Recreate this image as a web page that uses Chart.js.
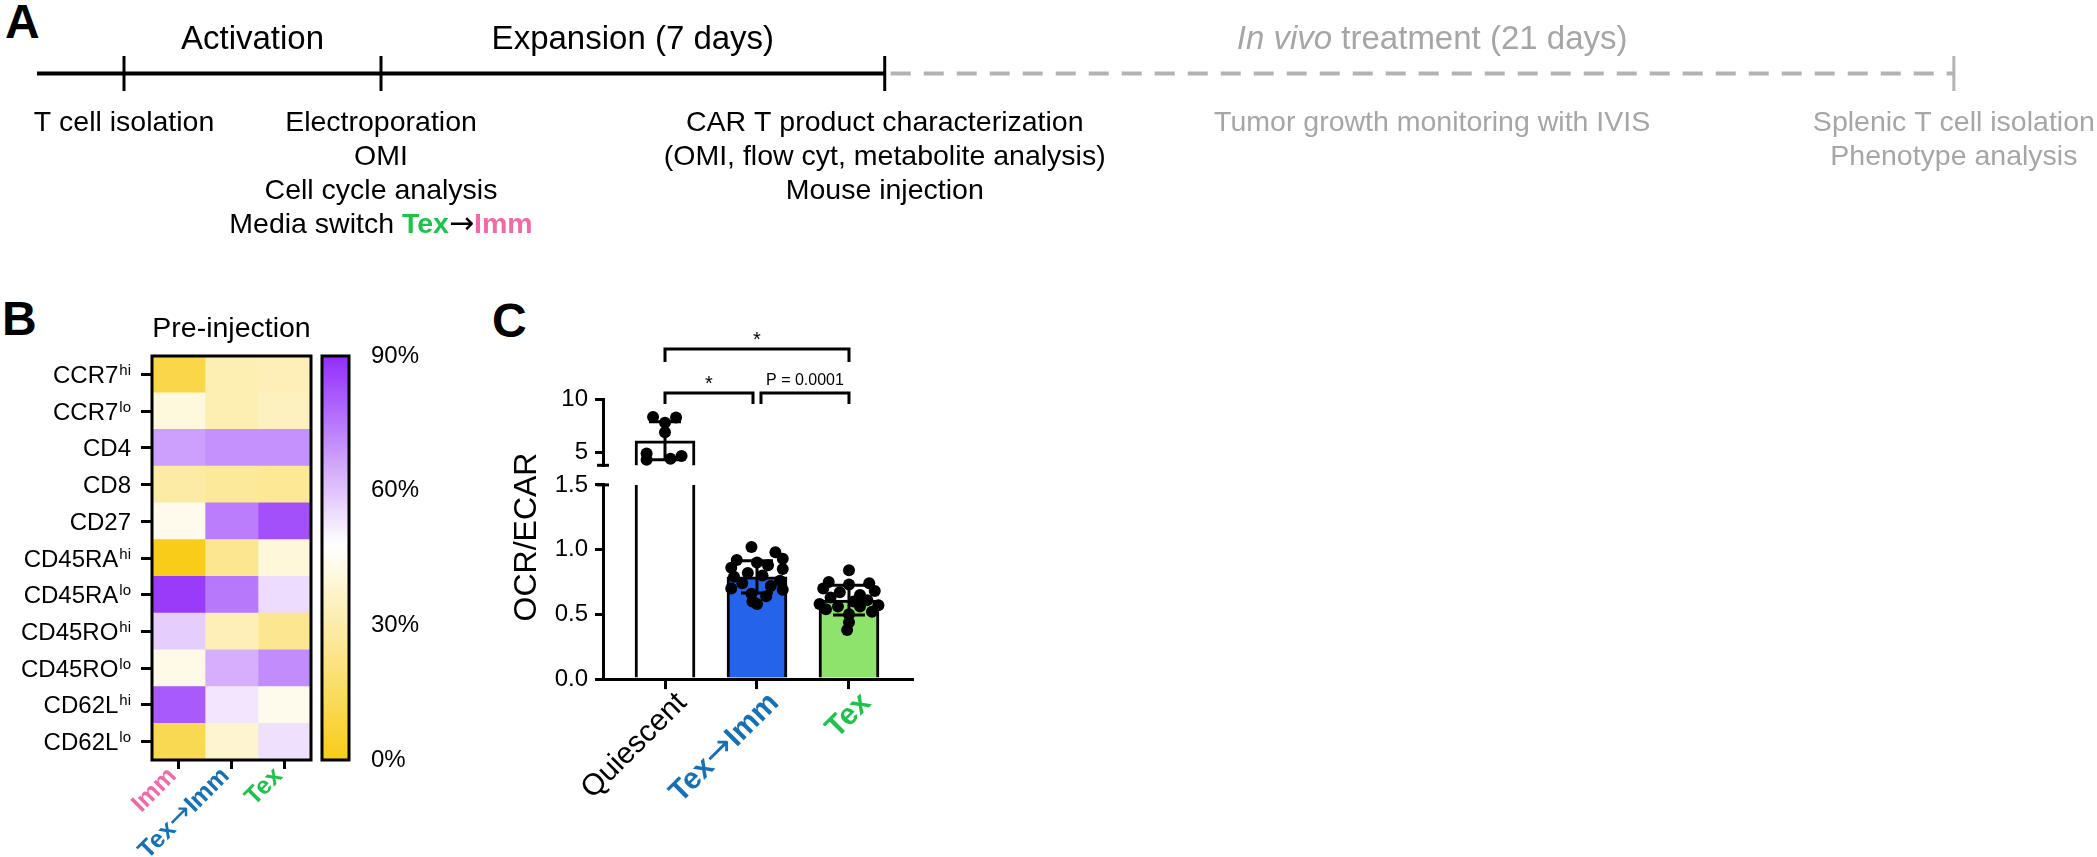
<!DOCTYPE html>
<html><head><meta charset="utf-8">
<script src="https://cdn.jsdelivr.net/npm/chart.js@4.4.1/dist/chart.umd.min.js"></script>
<style>
html,body{margin:0;padding:0;background:#fff;width:2097px;height:857px;overflow:hidden;position:relative;}
canvas{position:absolute;}
.plbl{position:absolute;font:bold 48px "Liberation Sans",Arial,sans-serif;line-height:1;color:#000;}
</style></head><body>
<div class="plbl" style="left:5px;top:-2px">A</div>
<div class="plbl" style="left:2px;top:295px">B</div>
<div class="plbl" style="left:492px;top:297px">C</div>
<canvas id="timeline" width="2097" height="260" style="left:0;top:0"></canvas>
<canvas id="heat" width="318" height="567" style="left:0;top:290px"></canvas>
<canvas id="cbar" width="125" height="567" style="left:315px;top:290px"></canvas>
<canvas id="upper" width="450" height="567" style="left:480px;top:290px"></canvas>
<canvas id="lower" width="450" height="567" style="left:480px;top:290px"></canvas>
<script>
const FONT = '"Liberation Sans", Arial, Helvetica, sans-serif';
const ARROW_FONT = '"DejaVu Sans", sans-serif';

// ---------- Panel A: timeline ----------
const milestonePos = [0, 1, 2.96, 7.12];          // schematic stage positions
const lineStartPos = -0.3385;
const phaseLabels = ['Activation', 'Expansion (7 days)', 'In vivo treatment (21 days)'];
const phaseAnchor = [0.5, 1.98, 5.09];
const eventLines = [
  ['T cell isolation'],
  ['Electroporation', 'OMI', 'Cell cycle analysis', 'Media switch Tex→Imm'],
  ['CAR T product characterization', '(OMI, flow cyt, metabolite analysis)', 'Mouse injection'],
  ['Splenic T cell isolation', 'Phenotype analysis']
];
const monitorLabel = 'Tumor growth monitoring with IVIS';

// ---------- Panel B: heatmap ----------
const markers   = ['CCR7','CCR7','CD4','CD8','CD27','CD45RA','CD45RA','CD45RO','CD45RO','CD62L','CD62L'];
const markerSup = ['hi','lo','','','','hi','lo','hi','lo','hi','lo'];
const immPct    = [10, 41, 67, 29, 44, 0, 87, 58, 43, 81, 12];
const texImmPct = [32, 32, 70, 27, 74, 25, 75, 33, 64, 53, 38];
const texPct    = [33, 35, 70, 26, 83, 40, 55, 25, 71, 44, 54];
const heatColumns = ['Imm', 'Tex→Imm', 'Tex'];
const colorbarTicks = [0, 30, 60, 90];

// ---------- Panel C: OCR/ECAR ----------
const groups = ['Quiescent', 'Tex→Imm', 'Tex'];
const meanRatio = [6.1, 0.79, 0.61];
const sdRatio = [1.8, 0.125, 0.115];
const quiescentDots   = [8.35, 8.3, 7.8, 6.9, 4.9, 4.3, 4.4, 4.65];
const quiescentJitter = [-0.13, 0.12, 0.0, 0.0, -0.2, -0.2, 0.06, 0.18];
const texImmDots   = [1.02, 0.98, 0.93, 0.92, 0.90, 0.88, 0.86, 0.85, 0.82, 0.80, 0.79, 0.76, 0.74, 0.72, 0.70, 0.69, 0.66, 0.64, 0.60, 0.58];
const texImmJitter = [-0.06, 0.2, 0.28, -0.22, 0.0, 0.12, -0.28, 0.28, -0.1, 0.06, -0.25, 0.25, -0.16, 0.15, -0.28, 0.28, -0.06, 0.1, -0.05, 0.0];
const texDots   = [0.84, 0.75, 0.74, 0.73, 0.70, 0.68, 0.67, 0.65, 0.63, 0.61, 0.60, 0.58, 0.57, 0.56, 0.56, 0.54, 0.52, 0.50, 0.44, 0.38];
const texJitter = [0.0, -0.22, 0.22, 0.0, -0.28, 0.28, -0.1, 0.12, -0.2, 0.2, 0.05, -0.32, 0.32, -0.12, 0.12, -0.25, 0.25, 0.0, 0.0, -0.02];
const upperTicks = [5, 10];
const lowerTicks = [0, 0.5, 1.0, 1.5];
const brackets = [
  {from: 0, to: 2, label: '*', row: 0},
  {from: 0, to: 1, label: '*', row: 1},
  {from: 1, to: 2, label: 'P = 0.0001', row: 1}
];

// colours
const PINK = '#f06aa6', BLUE = '#1570b8', GREEN = '#1ec24c', GREY = '#a6a6a6';
const groupColors = ['#000000', BLUE, GREEN];
const barFill = ['#ffffff', '#2563eb', '#8de36b'];
const heatLabelColors = [PINK, BLUE, GREEN];
const colorStops = [[0, [248, 204, 24]], [48, [255, 255, 255]], [90, [145, 45, 250]]];

function pctColor(v) {
  for (let i = 0; i < colorStops.length - 1; i++) {
    const [a, ca] = colorStops[i], [b, cb] = colorStops[i + 1];
    if (v <= b || i === colorStops.length - 2) {
      const t = Math.max(0, Math.min(1, (v - a) / (b - a)));
      const c = ca.map((x, k) => Math.round(x + (cb[k] - x) * t));
      return `rgb(${c[0]},${c[1]},${c[2]})`;
    }
  }
}
const rgbStr = c => `rgb(${c[0]},${c[1]},${c[2]})`;

const baseOpts = {responsive: false, animation: false, events: [], devicePixelRatio: 1,
  plugins: {legend: {display: false}, tooltip: {enabled: false}}};

function measureSegs(ctx, segs) {
  let total = 0;
  segs.forEach(s => { ctx.font = s.font; s.w = ctx.measureText(s.t).width; total += s.w; });
  return total;
}
function drawSegsAt(ctx, segs, x, baseline) {
  ctx.textAlign = 'left';
  segs.forEach(s => { ctx.font = s.font; ctx.fillStyle = s.color; ctx.fillText(s.t, x, baseline + (s.dy || 0)); x += s.w; });
}
function drawSegments(ctx, segs, cx, baseline) {
  const total = measureSegs(ctx, segs);
  drawSegsAt(ctx, segs, cx - total / 2, baseline);
}
function labelSegs(text, size, bold, color) {
  const f = `${bold ? 'bold ' : ''}${size}px ${FONT}`;
  if (text.indexOf('→') < 0) return [{t: text, font: f, color}];
  const [a, b] = text.split('→');
  return [{t: a, font: f, color}, {t: '→', font: `${Math.round(size * 1.15)}px ${ARROW_FONT}`, color},
          {t: b, font: f, color}];
}
function drawRotatedLabels(ctx, xScale, values, labels, colors, sizes, bolds, axisY, dx, dy) {
  values.forEach((v, i) => {
    const segs = labelSegs(labels[i], sizes[i], bolds[i], colors[i]);
    const total = measureSegs(ctx, segs);
    ctx.save();
    ctx.translate(xScale.getPixelForValue(v) + dx, axisY + dy);
    ctx.rotate(-Math.PI / 4);
    ctx.textBaseline = 'alphabetic';
    drawSegsAt(ctx, segs, -total, 0);
    ctx.restore();
  });
}

// ---------- Panel A chart ----------
const timelineText = {id: 'timelineText', afterDraw(chart) {
  const {ctx, scales: {x, y}} = chart;
  const yl = y.getPixelForValue(0);
  const big = `33px ${FONT}`, small = `28.5px ${FONT}`;
  ctx.save(); ctx.textBaseline = 'alphabetic';
  drawSegments(ctx, [{t: phaseLabels[0], font: big, color: '#000'}], x.getPixelForValue(phaseAnchor[0]), yl - 25);
  drawSegments(ctx, [{t: phaseLabels[1], font: big, color: '#000'}], x.getPixelForValue(phaseAnchor[1]), yl - 25);
  drawSegments(ctx, [{t: 'In vivo', font: `italic 33px ${FONT}`, color: GREY},
                     {t: ' treatment (21 days)', font: big, color: GREY}], x.getPixelForValue(phaseAnchor[2]), yl - 25);
  const lineGap = 34, firstBase = yl + 57;
  eventLines.forEach((lines, mi) => {
    const cx = x.getPixelForValue(milestonePos[mi]);
    const col = mi === 3 ? GREY : '#000';
    lines.forEach((ln, li) => {
      const base = firstBase + li * lineGap;
      if (ln === 'Media switch Tex→Imm') {
        drawSegments(ctx, [{t: 'Media switch ', font: small, color: '#000'},
                           {t: 'Tex', font: `bold 28.5px ${FONT}`, color: GREEN},
                           {t: '→', font: `30px ${ARROW_FONT}`, color: '#000'},
                           {t: 'Imm', font: `bold 28.5px ${FONT}`, color: PINK}], cx, base);
      } else {
        drawSegments(ctx, [{t: ln, font: small, color: col}], cx, base);
      }
    });
  });
  drawSegments(ctx, [{t: monitorLabel, font: small, color: GREY}], x.getPixelForValue(phaseAnchor[2]), firstBase);
  ctx.restore();
}};

new Chart(document.getElementById('timeline'), {
  type: 'line',
  data: {datasets: [
    {data: [{x: lineStartPos, y: 0}, {x: milestonePos[2], y: 0}], borderColor: '#000', borderWidth: 4, pointRadius: 0, clip: false},
    {data: [{x: milestonePos[2], y: 0}, {x: milestonePos[3], y: 0}], borderColor: '#b3b3b3', borderWidth: 4, borderDash: [20, 13], borderDashOffset: -6, pointRadius: 0, clip: false},
    ...milestonePos.map((m, i) => ({data: [{x: m, y: -1}, {x: m, y: 1}], borderColor: i < 3 ? '#000' : '#b3b3b3', borderWidth: 3, pointRadius: 0, clip: false}))
  ]},
  options: {...baseOpts,
    layout: {autoPadding: false, padding: {top: 56, bottom: 169, left: 0, right: 0}},
    elements: {line: {tension: 0}},
    scales: {x: {type: 'linear', min: -0.4825, max: 7.677, display: false},
             y: {type: 'linear', min: -1, max: 1, display: false}}
  },
  plugins: [timelineText]
});

// ---------- Panel B heatmap ----------
const heatValues = [immPct, texImmPct, texPct];
const heatDecor = {id: 'heatDecor', afterDraw(chart) {
  const {ctx, chartArea: a, scales: {x, y}} = chart;
  ctx.save();
  ctx.strokeStyle = '#000'; ctx.lineWidth = 3;
  ctx.strokeRect(a.left, a.top, a.right - a.left, a.bottom - a.top);
  ctx.fillStyle = '#000'; ctx.textBaseline = 'alphabetic'; ctx.textAlign = 'left';
  markers.forEach((m, i) => {
    const yc = y.getPixelForValue(i);
    ctx.font = `24px ${FONT}`; const wb = ctx.measureText(m).width;
    ctx.font = `15px ${FONT}`; const ws = markerSup[i] ? ctx.measureText(markerSup[i]).width + 1 : 0;
    const x0 = 131 - wb - ws;
    ctx.font = `24px ${FONT}`; ctx.fillText(m, x0, yc + 8.5);
    if (markerSup[i]) { ctx.font = `15px ${FONT}`; ctx.fillText(markerSup[i], x0 + wb + 1, yc + 0.5); }
  });
  ctx.font = `28.5px ${FONT}`; ctx.textAlign = 'center';
  ctx.fillText('Pre-injection', (a.left + a.right) / 2, 47);
  drawRotatedLabels(ctx, x, heatColumns.map((c, i) => i + 0.5), heatColumns, heatLabelColors,
                    heatColumns.map(() => 25), heatColumns.map(() => true), a.bottom, -1, 17);
  ctx.restore();
}};

new Chart(document.getElementById('heat'), {
  type: 'bar',
  data: {
    labels: markers.map((m, i) => m + markerSup[i]),
    datasets: heatColumns.map((c, ci) => ({
      label: c, data: markers.map(() => 1),
      backgroundColor: heatValues[ci].map(pctColor),
      borderWidth: 0, barPercentage: 1, categoryPercentage: 1
    }))
  },
  options: {...baseOpts, indexAxis: 'y',
    layout: {autoPadding: false, padding: {top: 66, right: 7, left: 0, bottom: 0}},
    scales: {
      x: {type: 'linear', stacked: true, min: 0, max: 3, offset: false,
          afterBuildTicks: s => { s.ticks = heatColumns.map((c, i) => ({value: i + 0.5})); },
          afterFit: s => { s.height = 97; },
          ticks: {display: false},
          grid: {offset: false, drawOnChartArea: false, tickLength: 9, color: '#000', lineWidth: 3},
          border: {display: false}},
      y: {stacked: true, afterFit: s => { s.width = 152; },
          ticks: {display: false},
          grid: {offset: false, drawOnChartArea: false, tickLength: 11, color: '#000', lineWidth: 3},
          border: {display: false}}
    }
  },
  plugins: [heatDecor]
});

// colour bar
const frame = {id: 'frame', afterDraw(chart) {
  const {ctx, chartArea: a} = chart;
  ctx.save(); ctx.strokeStyle = '#000'; ctx.lineWidth = 3;
  ctx.strokeRect(a.left, a.top, a.right - a.left, a.bottom - a.top); ctx.restore();
}};
new Chart(document.getElementById('cbar'), {
  type: 'bar',
  data: {labels: [''], datasets: [{
    data: [[colorbarTicks[0], colorbarTicks[colorbarTicks.length - 1]]],
    backgroundColor: c => {
      const {ctx, chartArea} = c.chart;
      if (!chartArea) return '#ffffff';
      const g = ctx.createLinearGradient(0, chartArea.bottom, 0, chartArea.top);
      colorStops.forEach(s => g.addColorStop(s[0] / 90, rgbStr(s[1])));
      return g;
    },
    borderWidth: 0, barPercentage: 1, categoryPercentage: 1
  }]},
  options: {...baseOpts,
    layout: {autoPadding: false, padding: {top: 66, left: 7, right: 0, bottom: 97}},
    scales: {
      x: {display: false},
      y: {position: 'right', min: 0, max: 90,
          afterBuildTicks: s => { s.ticks = colorbarTicks.map(v => ({value: v})); },
          afterFit: s => { s.width = 91; },
          ticks: {callback: v => v + '%', font: {family: FONT, size: 24}, color: '#000', padding: 14},
          grid: {display: false}, border: {display: false}}
    }
  },
  plugins: [frame]
});

// ---------- Panel C ----------
const dotData = [];
[[quiescentDots, quiescentJitter], [texImmDots, texImmJitter], [texDots, texJitter]].forEach(([vals, jit], gi) => {
  vals.forEach((v, k) => dotData.push({x: gi + jit[k], y: v}));
});

const errorBars = {id: 'errorBars', afterDatasetsDraw(chart) {
  const {ctx, chartArea: a, scales: {x, y}} = chart;
  ctx.save();
  ctx.beginPath(); ctx.rect(a.left - 40, a.top, a.right - a.left + 80, a.bottom - a.top); ctx.clip();
  ctx.strokeStyle = '#000'; ctx.lineWidth = 3;
  meanRatio.forEach((m, i) => {
    const px = x.getPixelForValue(i);
    const hi = y.getPixelForValue(m + sdRatio[i]), lo = y.getPixelForValue(m - sdRatio[i]);
    ctx.beginPath();
    ctx.moveTo(px, hi); ctx.lineTo(px, lo);
    ctx.moveTo(px - 16, hi); ctx.lineTo(px + 16, hi);
    ctx.moveTo(px - 16, lo); ctx.lineTo(px + 16, lo);
    ctx.stroke();
  });
  ctx.restore();
}};

const upperDecor = {id: 'upperDecor', afterDraw(chart) {
  const {ctx, chartArea: a, scales: {x}} = chart;
  ctx.save();
  ctx.strokeStyle = '#000'; ctx.fillStyle = '#000'; ctx.lineWidth = 3;
  ctx.beginPath(); ctx.moveTo(a.left - 6, a.bottom); ctx.lineTo(a.left + 6, a.bottom); ctx.stroke();
  const rowY = [59, 103], legs = [13, 11];
  brackets.forEach(b => {
    let x0 = x.getPixelForValue(b.from), x1 = x.getPixelForValue(b.to);
    if (b.row === 1 && b.from === 0) x1 -= 4;
    if (b.row === 1 && b.from === 1) x0 += 4;
    const yy = rowY[b.row];
    ctx.beginPath(); ctx.moveTo(x0, yy + legs[b.row]); ctx.lineTo(x0, yy); ctx.lineTo(x1, yy); ctx.lineTo(x1, yy + legs[b.row]); ctx.stroke();
    ctx.textAlign = 'center'; ctx.textBaseline = 'alphabetic';
    if (b.label === '*') { ctx.font = `20px ${FONT}`; ctx.fillText('*', (x0 + x1) / 2, yy - 3); }
    else { ctx.font = `16px ${FONT}`; ctx.fillText(b.label, (x0 + x1) / 2, yy - 8); }
  });
  ctx.restore();
}};

const lowerDecor = {id: 'lowerDecor', afterDraw(chart) {
  const {ctx, chartArea: a, scales: {x}} = chart;
  ctx.save();
  ctx.strokeStyle = '#000'; ctx.lineWidth = 3;
  ctx.beginPath(); ctx.moveTo(a.left - 6, a.top); ctx.lineTo(a.left + 6, a.top); ctx.stroke();
  drawRotatedLabels(ctx, x, groups.map((g, i) => i), groups, groupColors,
                    groups.map(() => 30), groups.map((g, i) => i > 0), a.bottom, 23, 25);
  ctx.fillStyle = '#000'; ctx.font = `32px ${FONT}`; ctx.textAlign = 'center'; ctx.textBaseline = 'middle';
  ctx.translate(47, 247); ctx.rotate(-Math.PI / 2); ctx.fillText('OCR/ECAR', 0, 0);
  ctx.restore();
}};

function panelC(canvasId, yMin, yMax, ticksArr, tickFmt, pad, showX, barClip, dotClip, extra) {
  return new Chart(document.getElementById(canvasId), {
    type: 'bar',
    data: {datasets: [
      {type: 'bar', data: meanRatio.map((m, i) => ({x: i, y: m})), backgroundColor: barFill,
       borderColor: '#000', borderWidth: 3, borderSkipped: 'start', barThickness: 60, clip: barClip, order: 2},
      {type: 'scatter', data: dotData, pointRadius: 6, pointBackgroundColor: '#000', pointBorderWidth: 0,
       clip: dotClip, order: 1}
    ]},
    options: {...baseOpts,
      layout: {autoPadding: false, padding: pad},
      scales: {
        x: {type: 'linear', min: -0.674, max: 2.685, offset: false, display: showX,
            afterBuildTicks: s => { s.ticks = groups.map((g, i) => ({value: i})); },
            afterFit: s => { if (showX) s.height = 177.9; },
            ticks: {display: false},
            grid: {offset: false, drawOnChartArea: false, tickLength: 10, color: '#000', lineWidth: 3},
            border: {display: true, color: '#000', width: 3}},
        y: {type: 'linear', min: yMin, max: yMax,
            afterBuildTicks: s => { s.ticks = ticksArr.map(v => ({value: v})); },
            afterFit: s => { s.width = 123; },
            ticks: {callback: tickFmt, font: {family: FONT, size: 24}, color: '#000', padding: 7},
            grid: {drawOnChartArea: false, tickLength: 8, color: '#000', lineWidth: 3},
            border: {display: true, color: '#000', width: 3}}
      }
    },
    plugins: [errorBars, extra]
  });
}

panelC('upper', 3.77, 10, upperTicks, v => String(v),
       {top: 109.6, right: 18, left: 0, bottom: 391.7}, false,
       {left: 5, right: 5, top: 5, bottom: 0}, {left: 20, right: 20, top: 20, bottom: 8}, upperDecor);
panelC('lower', 0, 1.5, lowerTicks, v => v.toFixed(1),
       {top: 194.9, right: 18, left: 0, bottom: 0}, true,
       {left: 5, right: 5, top: 0, bottom: 5}, {left: 20, right: 20, top: 0, bottom: 8}, lowerDecor);
</script>
</body></html>
